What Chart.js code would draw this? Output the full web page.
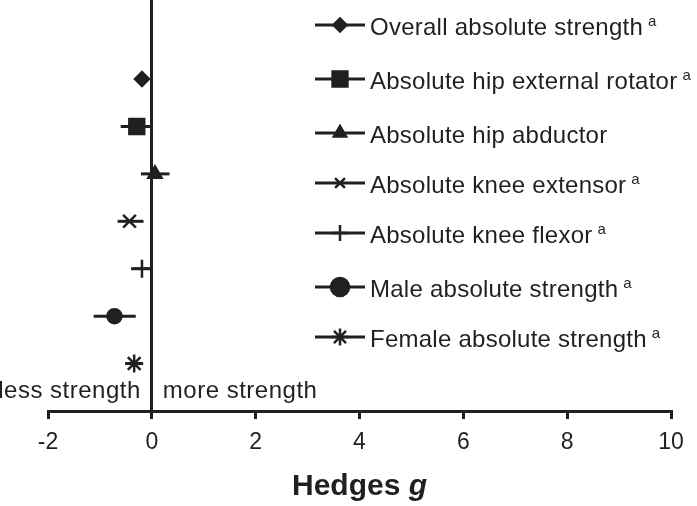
<!DOCTYPE html>
<html>
<head>
<meta charset="utf-8">
<script src="https://cdn.jsdelivr.net/npm/chart.js@4"></script>
<style>
    html, body { margin: 0; padding: 0; background: #fff; }
    canvas { display: block; }
</style>
</head>
<body>
<canvas id="myChart" width="697" height="506"></canvas>
<script>
// measures, top to bottom
const labels = [
    "Overall absolute strength",
    "Absolute hip external rotator",
    "Absolute hip abductor",
    "Absolute knee extensor",
    "Absolute knee flexor",
    "Male absolute strength",
    "Female absolute strength",
];
const hasNote = [true, true, false, true, true, true, true];
const estimates = [-0.19, -0.29, 0.06, -0.43, -0.19, -0.72, -0.34];
const lower = [-0.27, -0.60, -0.21, -0.66, -0.40, -1.12, -0.51];
const upper = [-0.11, 0.01, 0.34, -0.16, 0.0, -0.31, -0.17];
const xTicks = [-2, 0, 2, 4, 6, 8, 10];

const dark = "#231f20";
const font = "'Liberation Sans', Arial, sans-serif";

// marker styles (chart radius, legend radius)
const markers = [
    { style: "rectRot", r: 7, lr: 6.5 },
    { style: "rect", r: 10.5, lr: 10.5 },
    { style: "triangle", r: 7.5, lr: 7 },
    { style: "crossRot", r: 9, lr: 7 },
    { style: "cross", r: 9, lr: 8 },
    { style: "circle", r: 7, lr: 9 },
    { style: "star", r: 9, lr: 8.5 },
];

var datasets = [];
for (var i = 0; i < labels.length; i++) {
    var m = markers[i];
    datasets.push({
        label: labels[i],
        data: [
            { x: lower[i], y: i + 1 },
            { x: estimates[i], y: i + 1 },
            { x: upper[i], y: i + 1 },
        ],
        showLine: true,
        borderColor: dark,
        borderWidth: 3,
        pointStyle: m.style,
        pointRadius: [0, m.r, 0],
        pointHoverRadius: [0, m.r, 0],
        pointBackgroundColor: dark,
        pointBorderColor: dark,
        pointBorderWidth: 2.5,
    });
}

const legendPlugin = {
    id: "customLegend",
    afterDatasetsDraw(chart) {
        const ctx = chart.ctx;
        const x0 = chart.scales.x.getPixelForValue(0);
        const bottom = chart.chartArea.bottom;
        ctx.save();
        ctx.fillStyle = dark;
        ctx.font = "24px " + font;
        ctx.letterSpacing = "0.5px";
        ctx.textBaseline = "alphabetic";
        ctx.textAlign = "right";
        ctx.fillText("less strength", x0 - 11, bottom - 13);
        ctx.textAlign = "left";
        ctx.fillText("more strength", x0 + 11, bottom - 13);

        // legend
        var legendY = [25, 79, 133, 183, 233, 287, 337];
        for (var i = 0; i < labels.length; i++) {
            var y = legendY[i];
            ctx.strokeStyle = dark;
            ctx.lineWidth = 3;
            ctx.beginPath();
            ctx.moveTo(315, y);
            ctx.lineTo(365, y);
            ctx.stroke();
            ctx.lineWidth = 2.5;
            ctx.fillStyle = dark;
            Chart.helpers.drawPoint(ctx, { pointStyle: markers[i].style, radius: markers[i].lr, rotation: 0, borderWidth: 2.5 }, 340, y);
            ctx.font = "24px " + font;
            ctx.letterSpacing = "0.25px";
            ctx.textAlign = "left";
            ctx.fillText(labels[i], 370, y + 10);
            if (hasNote[i]) {
                var w = ctx.measureText(labels[i]).width;
                ctx.font = "15px " + font;
                ctx.fillText("a", 370 + w + 5, y + 1);
            }
        }
        ctx.letterSpacing = "0px";

        // axis title
        var cx = (chart.chartArea.left + chart.chartArea.right) / 2;
        ctx.font = "bold 30px " + font;
        var w1 = ctx.measureText("Hedges ").width;
        ctx.font = "italic bold 30px " + font;
        var w2 = ctx.measureText("g").width;
        var sx = cx - (w1 + w2) / 2;
        ctx.font = "bold 30px " + font;
        ctx.fillText("Hedges ", sx, 495);
        ctx.font = "italic bold 30px " + font;
        ctx.fillText("g", sx + w1, 495);
        ctx.restore();
    },
};

new Chart(document.getElementById("myChart"), {
    type: "scatter",
    data: { datasets: datasets },
    options: {
        responsive: false,
        animation: false,
        devicePixelRatio: 1,
        layout: {
            padding: { left: 48, right: 26, top: 0, bottom: 0 },
        },
        plugins: {
            legend: { display: false },
            tooltip: { enabled: false },
        },
        scales: {
            x: {
                type: "linear",
                min: -2,
                max: 10,
                afterBuildTicks: function (scale) {
                    scale.ticks = xTicks.map(function (v) { return { value: v }; });
                },
                afterFit: function (scale) {
                    scale.height = 95;
                },
                ticks: {
                    color: dark,
                    font: { family: font, size: 23 },
                    padding: 10,
                    maxRotation: 0,
                },
                grid: {
                    color: function (c) {
                        return c.tick && c.tick.value === 0 ? dark : "rgba(0,0,0,0)";
                    },
                    lineWidth: 3,
                    tickColor: dark,
                    tickWidth: 3,
                    tickLength: 8,
                },
                border: { color: dark, width: 3 },
            },
            y: {
                type: "linear",
                min: -0.667,
                max: 8,
                reverse: true,
                display: false,
            },
        },
    },
    plugins: [legendPlugin],
});
</script>
</body>
</html>
